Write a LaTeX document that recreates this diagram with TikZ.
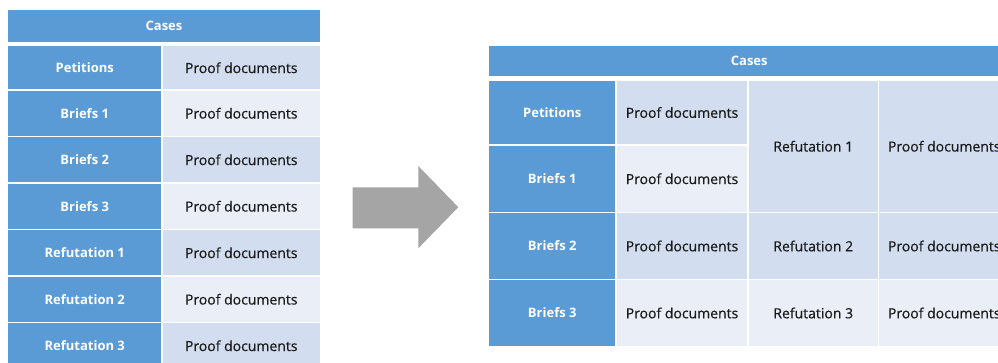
\documentclass[tikz,border=0pt]{standalone}
\usepackage{fontspec}
\setmainfont{Open Sans}
\newfontfamily\celltextfont{Open Sans}[FakeBold=0.5]
\definecolor{hdblue}{HTML}{5B9BD5}
\definecolor{banddark}{HTML}{D2DEEF}
\definecolor{bandlight}{HTML}{EAEFF7}
\definecolor{txtdark}{HTML}{1A1A1A}
\definecolor{arrowgray}{HTML}{A5A5A5}
\tikzset{
  cellbox/.style={rectangle, draw=white, line width=1.5pt, inner sep=0pt,
    font=\celltextfont\fontsize{14}{15}\selectfont},
  bluecell/.style={cellbox, fill=hdblue, text=white, font=\normalfont\fontsize{13}{15}\selectfont\bfseries},
  darkcell/.style={cellbox, fill=banddark, text=txtdark},
  lightcell/.style={cellbox, fill=bandlight, text=txtdark},
  headcell/.style={cellbox, fill=hdblue, text=white, font=\normalfont\fontsize{13}{15}\selectfont\bfseries},
}
% \cell{style}{name}{x1}{y1}{x2}{y2}{text}
\newcommand{\cell}[7]{%
  \node[#1, minimum width={(#5)-(#3)}, minimum height={(#6)-(#4)}]
    (#2) at ({((#3)+(#5))/2},{((#4)+(#6))/2}) {#7};}
\begin{document}
\begin{tikzpicture}[x=1pt, y=-1pt]
\useasboundingbox (0,0) rectangle (998,363);
\clip (0,0) rectangle (998,363);

% ---- left table: one row per document ----
\cell{headcell}{lcases}{7.5}{9.5}{320.5}{42.5}{Cases}
\cell{bluecell}{lpet}{7.5}{45.5}{162}{90}{Petitions}
\cell{darkcell}{lpetp}{162}{45.5}{320.5}{90}{Proof documents}
\cell{bluecell}{lbr1}{7.5}{90}{162}{136.5}{Briefs 1}
\cell{lightcell}{lbr1p}{162}{90}{320.5}{136.5}{Proof documents}
\cell{bluecell}{lbr2}{7.5}{136.5}{162}{183}{Briefs 2}
\cell{darkcell}{lbr2p}{162}{136.5}{320.5}{183}{Proof documents}
\cell{bluecell}{lbr3}{7.5}{183}{162}{229.5}{Briefs 3}
\cell{lightcell}{lbr3p}{162}{183}{320.5}{229.5}{Proof documents}
\cell{bluecell}{lref1}{7.5}{229.5}{162}{276}{Refutation 1}
\cell{darkcell}{lref1p}{162}{229.5}{320.5}{276}{Proof documents}
\cell{bluecell}{lref2}{7.5}{276}{162}{322.5}{Refutation 2}
\cell{lightcell}{lref2p}{162}{276}{320.5}{322.5}{Proof documents}
\cell{bluecell}{lref3}{7.5}{322.5}{162}{369}{Refutation 3}
\cell{darkcell}{lref3p}{162}{322.5}{320.5}{369}{Proof documents}

% ---- block arrow between the two layouts ----
\fill[arrowgray] (352.7,187.3) -- (418.3,187.3) -- (418.3,166) -- (458.3,207.2)
  -- (418.3,248.3) -- (418.3,228.3) -- (352.7,228.3) -- cycle;

% ---- right table: refutations beside the briefs ----
\cell{headcell}{rcases}{488.5}{45}{1010}{77}{Cases}
\cell{bluecell}{rpet}{488.5}{80}{616}{145}{Petitions}
\cell{darkcell}{rpetp}{616}{80}{748}{145}{Proof documents}
\cell{bluecell}{rbr1}{488.5}{145}{616}{212.5}{Briefs 1}
\cell{lightcell}{rbr1p}{616}{145}{748}{212.5}{Proof documents}
\cell{darkcell}{rref1}{748}{80}{878.5}{212.5}{Refutation 1}
\cell{darkcell}{rref1p}{878.5}{80}{1010}{212.5}{Proof documents}
\cell{bluecell}{rbr2}{488.5}{212.5}{616}{279.5}{Briefs 2}
\cell{darkcell}{rbr2p}{616}{212.5}{748}{279.5}{Proof documents}
\cell{darkcell}{rref2}{748}{212.5}{878.5}{279.5}{Refutation 2}
\cell{darkcell}{rref2p}{878.5}{212.5}{1010}{279.5}{Proof documents}
\cell{bluecell}{rbr3}{488.5}{279.5}{616}{346.5}{Briefs 3}
\cell{lightcell}{rbr3p}{616}{279.5}{748}{346.5}{Proof documents}
\cell{lightcell}{rref3}{748}{279.5}{878.5}{346.5}{Refutation 3}
\cell{lightcell}{rref3p}{878.5}{279.5}{1010}{346.5}{Proof documents}
\end{tikzpicture}
\end{document}
